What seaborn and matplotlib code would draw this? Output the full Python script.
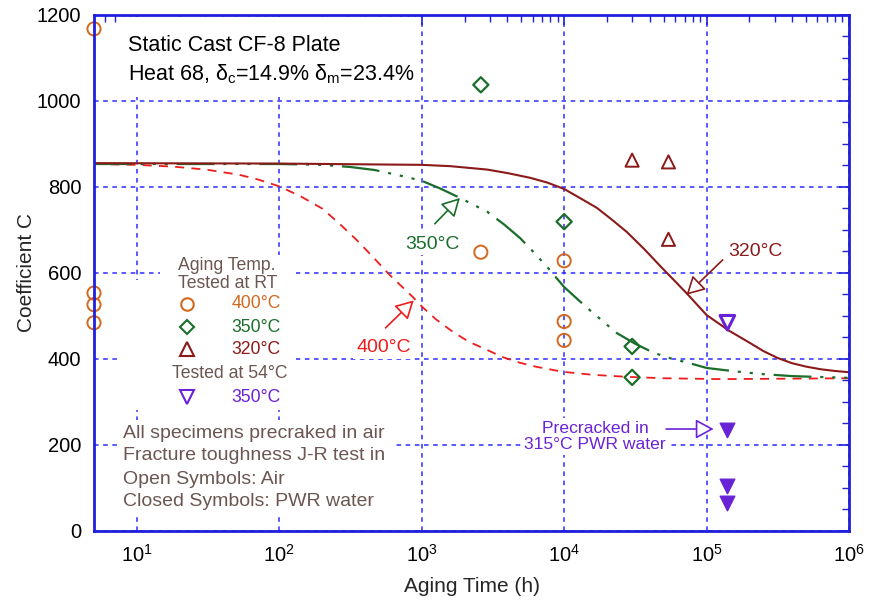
import matplotlib
matplotlib.use("Agg")
import numpy as np
import seaborn as sns
from matplotlib import pyplot as plt
from matplotlib.patches import Rectangle
from matplotlib.ticker import LogLocator, MultipleLocator, NullFormatter

# measured data (aging time in h, coefficient C)
t_400 = [5, 5, 5, 5, 2600, 1e4, 1e4, 1e4]
c_400 = [1167, 553, 526, 484, 648, 628, 487, 443]
t_350 = [2600, 1e4, 3e4, 3e4]
c_350 = [1037, 719, 429, 357]
t_320 = [3.0e4, 5.4e4, 5.4e4]
c_320 = [862, 858, 678]
t_54 = [1.4e5]
c_54 = [484]
t_pwr = [1.4e5, 1.4e5, 1.4e5]
c_pwr = [235, 105, 64]

# fitted curves
curve_t_400 = [5, 10, 17.8, 30.6, 52.2, 70.8, 100, 141, 201, 263, 348, 457, 596, 865, 1000,
               1259, 1652, 2138, 2871, 3715, 4898, 6310, 9772, 15850, 28840, 50120, 125900, 1e6]
curve_c_400 = [853, 851, 847, 840, 828, 817, 801, 778, 749, 715, 677, 636, 595, 544, 522,
               492, 463, 440, 421, 404, 391, 382, 370, 363, 358, 355, 353, 355]
curve_t_350 = [5, 100, 200, 316, 468, 776, 1000, 1349, 1862, 2884, 3802, 4898, 6026, 7586,
               10000, 14450, 18620, 23440, 31620, 42660, 56230, 74130, 100000, 158500,
               239900, 398100, 977200]
curve_c_350 = [853, 853, 851, 846, 839, 823, 814, 796, 774, 742, 712, 681, 650, 614,
               567, 519, 488, 460, 435, 414, 401, 391, 379, 371, 365, 360, 356]
curve_t_320 = [5, 100, 1000, 1585, 2884, 3981, 5754, 7586, 10000, 12590, 16980, 21380,
               27540, 36310, 47860, 60260, 74130, 100000, 125900, 141300, 199500, 251200,
               316200, 398100, 501200, 631000, 794300, 1000000]
curve_c_320 = [855, 854, 851, 848, 840, 832, 821, 810, 795, 776, 751, 725,
               695, 656, 614, 580, 549, 502, 479, 467, 438, 418,
               402, 390, 382, 376, 372, 369]

orange = "#d2691e"
green = "#1a6e2a"
darkred = "#8b1a1a"
red = "#ee1c1c"
purple = "#6a22d6"
brown = "#6b5651"
blue = "#1f1fdd"

sns.set_style("white")
plt.rcParams['font.family'] = ['Liberation Sans', 'DejaVu Sans']
plt.rcParams['mathtext.fontset'] = 'custom'
plt.rcParams['mathtext.rm'] = 'Liberation Sans'
plt.rcParams['mathtext.it'] = 'Liberation Sans'

fig = plt.figure(figsize=(8.75, 6.06), dpi=100)
ax = fig.add_axes([94 / 875, 1 - 531 / 606, 755 / 875, 516.3 / 606])
ax.set_xscale("log")

# grid
ax.set_axisbelow(True)
ax.grid(True, which="major", color="#2b2bff", linestyle=(0, (3, 3)), linewidth=1.1, zorder=0)

# curves
sns.lineplot(x=curve_t_400, y=curve_c_400, ax=ax, color=red, linewidth=1.3,
             linestyle=(0, (5, 4)), estimator=None, sort=False)
sns.lineplot(x=curve_t_350, y=curve_c_350, ax=ax, color=green, linewidth=1.6,
             linestyle=(0, (17, 4, 1.4, 4, 1.4, 4, 1.4, 4)), estimator=None, sort=False)
sns.lineplot(x=curve_t_320, y=curve_c_320, ax=ax, color=darkred, linewidth=1.5,
             estimator=None, sort=False)

# points
open_kw = dict(s=90, facecolor="none", linewidth=1.4, clip_on=False, zorder=8)
sns.scatterplot(x=t_400, y=c_400, ax=ax, marker="o", color=orange, edgecolor=orange, **open_kw)
sns.scatterplot(x=t_350, y=c_350, ax=ax, marker="D", color=green, edgecolor=green,
                s=60, facecolor="none", linewidth=1.6, zorder=8)
sns.scatterplot(x=t_320, y=c_320, ax=ax, marker="^", color=darkred, edgecolor=darkred, **open_kw)
sns.scatterplot(x=t_54, y=c_54, ax=ax, marker="v", color=purple, edgecolor=purple,
                s=110, facecolor="none", linewidth=2.2, zorder=8)
sns.scatterplot(x=t_pwr, y=c_pwr, ax=ax, marker="v", color=purple, edgecolor=purple,
                s=110, linewidth=1, zorder=8)

ax.set_xlim(5, 1e6)
ax.set_ylim(0, 1200)

# ticks and spines
ax.xaxis.set_major_locator(LogLocator(base=10, numticks=10))
ax.xaxis.set_minor_locator(LogLocator(base=10, subs=np.arange(2, 10), numticks=20))
ax.xaxis.set_minor_formatter(NullFormatter())
ax.yaxis.set_major_locator(MultipleLocator(200))
ax.yaxis.set_minor_locator(MultipleLocator(50))
ax.tick_params(which="both", direction="in", top=True, right=True, color=blue,
               labelsize=14.5, labelcolor="black")
ax.tick_params(which="major", length=7, width=1.2, pad=9)
ax.tick_params(which="minor", length=5, width=1.0)
for sp in ax.spines.values():
    sp.set_color(blue)
    sp.set_linewidth(2)
    sp.set_zorder(9)

ax.set_xlabel("Aging Time (h)", fontsize=15, labelpad=8)
ax.set_ylabel("Coefficient C", fontsize=15, labelpad=0.5)


def white_box():
    return dict(boxstyle="square,pad=0.15", facecolor="white", edgecolor="none")


def ax_xy(px, py):
    return ((px - 94) / 755, (531 - py) / 516.3)


# white panels behind the text blocks (hide the grid like the original)
for x0, y0, x1, y1 in [(118, 17, 419, 97), (160, 255, 296, 410), (120, 280, 296, 410),
                       (118, 420, 392, 514)]:
    (ax0, ay1), (ax1, ay0) = ax_xy(x0, y0), ax_xy(x1, y1)
    ax.add_patch(Rectangle((ax0, ay0), ax1 - ax0, ay1 - ay0, transform=ax.transAxes,
                           facecolor="white", edgecolor="none", zorder=1))

# header text
ax.text(0.045, 0.941, "Static Cast CF-8 Plate", transform=ax.transAxes,
        fontsize=15.5, va="center", ha="left", color="black", zorder=6)
ax.text(0.045, 0.885, r"Heat 68, $\delta_c$=14.9% $\delta_m$=23.4%", transform=ax.transAxes,
        fontsize=15.5, va="center", ha="left", color="black", zorder=6)

# legend built by hand
leg_fs = 12.7
ax.text(*ax_xy(227, 265), "Aging Temp.", transform=ax.transAxes, fontsize=leg_fs,
        ha="center", va="center", color=brown, zorder=6)
ax.text(*ax_xy(228, 283), "Tested at RT", transform=ax.transAxes, fontsize=leg_fs,
        ha="center", va="center", color=brown, zorder=6)
ax.text(*ax_xy(230, 374), "Tested at 54°C", transform=ax.transAxes, fontsize=leg_fs,
        ha="center", va="center", color=brown, zorder=6)
legend_rows = [(304, "o", orange, "400°C", 9), (327, "D", green, "350°C", 7),
               (349, "^", darkred, "320°C", 10), (397, "v", purple, "350°C", 10)]
for py, mk, col, lab, ms in legend_rows:
    lx, ly = ax_xy(187, py)
    ax.plot([lx], [ly], marker=mk, markersize=ms, mfc="none", mec=col, mew=1.5,
            transform=ax.transAxes, linestyle="none", zorder=7)
    ax.text(*ax_xy(256, py), lab, transform=ax.transAxes, fontsize=leg_fs,
            ha="center", va="center", color=col, zorder=6)

note_lines = ["All specimens precraked in air", "Fracture toughness J-R test in",
              "Open Symbols: Air", "Closed Symbols: PWR water"]
for i, line in enumerate(note_lines):
    ax.text(*ax_xy(123, 433 + 23 * i), line, transform=ax.transAxes, fontsize=14,
            ha="left", va="center", color=brown, zorder=6)

# annotations with open arrow heads
arrow_style = "-|>,head_length=0.55,head_width=0.3"


def open_arrow(col):
    return dict(arrowstyle=arrow_style, fc="white", ec=col, lw=1.2,
                shrinkA=0, shrinkB=0, mutation_scale=20)


ax.annotate("", xy=(1854, 774), xytext=(1235, 714), arrowprops=open_arrow(green), zorder=7)
ax.text(1186, 667, "350°C", fontsize=14, color=green, ha="center", va="center",
        bbox=white_box(), zorder=6)
ax.annotate("", xy=(879, 536), xytext=(557, 472), arrowprops=open_arrow(red), zorder=7)
ax.text(540, 426, "400°C", fontsize=14, color=red, ha="center", va="center",
        bbox=white_box(), zorder=6)
ax.annotate("", xy=(72300, 549), xytext=(129700, 630), arrowprops=open_arrow(darkred), zorder=7)
ax.text(221000, 649, "320°C", fontsize=14, color=darkred, ha="center", va="center",
        bbox=white_box(), zorder=6)
ax.annotate("", xy=(112000, 237), xytext=(52000, 237), arrowprops=open_arrow(purple), zorder=7)
ax.text(16500, 220, "Precracked in\n315°C PWR water", fontsize=12.6, color=purple,
        ha="center", va="center", linespacing=1.1, bbox=white_box(), zorder=6)

plt.savefig("out.png", dpi=100)
